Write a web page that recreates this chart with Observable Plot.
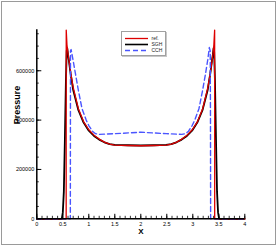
<!DOCTYPE html>
<html>
<head>
<meta charset="utf-8">
<script src="https://cdn.jsdelivr.net/npm/d3@7"></script>
<script src="https://cdn.jsdelivr.net/npm/@observablehq/plot@0.6"></script>
<style>
  html, body { margin: 0; padding: 0; background: white; }
  #wrap { position: relative; width: 277px; height: 246px; }
  #wrap svg.plot { outline: 1px solid #9a9a9a; outline-offset: -2px; }
  #legend { position: absolute; left: 120.5px; top: 30.5px; width: 45px; height: 25px;
            background: white; border: 1px solid #a0a0a0; box-shadow: 1px 1px 0 #c8c8c8; box-sizing: border-box; }
</style>
</head>
<body>
<div id="wrap"></div>
<script>
// ----- data -----
const seriesNames = ["ref.", "SGH", "CCH"];
const seriesColors = ["#dd0000", "#000000", "#4a55ff"];

const refX = [0, 0.565, 0.566, 0.58, 0.6, 0.65, 0.7, 0.8, 0.9, 1.0, 1.1, 1.2, 1.3, 1.4, 1.5, 1.75, 2.0, 2.25, 2.49, 2.59, 2.69, 2.79, 2.89, 2.99, 3.09, 3.19, 3.29, 3.34, 3.39, 3.405, 3.42, 3.421, 4.0];
const refP = [0, 0, 765000, 705000, 670000, 595000, 533000, 446000, 394000, 361000, 339000, 323000, 311000, 303000, 299000, 297000, 296000, 297000, 299000, 303000, 311000, 323000, 339000, 361000, 394000, 446000, 533000, 595000, 670000, 705000, 765000, 0, 0];

const sghX = [0, 0.48, 0.5, 0.52, 0.54, 0.56, 0.575, 0.585, 0.6, 0.615, 0.65, 0.7, 0.8, 0.9, 1.0, 1.1, 1.2, 1.3, 1.4, 1.5, 1.75, 2.0, 2.25, 2.486, 2.586, 2.686, 2.786, 2.886, 2.986, 3.086, 3.186, 3.286, 3.336, 3.371, 3.386, 3.40, 3.41, 3.426, 3.446, 3.466, 3.486, 3.506, 4.0];
const sghP = [0, 0, 25000, 110000, 320000, 560000, 680000, 692000, 665000, 645000, 588000, 522000, 440000, 390000, 357000, 336000, 321000, 310000, 303000, 300000, 298000, 297000, 298000, 300000, 303000, 310000, 321000, 336000, 357000, 390000, 440000, 522000, 588000, 645000, 665000, 692000, 680000, 560000, 320000, 110000, 25000, 0, 0];

const cchX = [0, 0.645, 0.648, 0.66, 0.7, 0.745, 0.8, 0.87, 0.95, 1.0, 1.07, 1.13, 1.2, 1.5, 2.0, 2.488, 2.788, 2.858, 2.918, 2.988, 3.038, 3.118, 3.188, 3.243, 3.288, 3.318, 3.335, 3.34, 3.343, 4.0];
const cchP = [0, 0, 680000, 686000, 640000, 586000, 520000, 446000, 400000, 378000, 355000, 345000, 342000, 345000, 351000, 345000, 342000, 345000, 355000, 378000, 400000, 446000, 520000, 586000, 645000, 694000, 680000, 400000, 0, 0];

const xMajor = [0, 0.5, 1, 1.5, 2, 2.5, 3, 3.5, 4];
const xMinor = d3.range(0, 41).map(i => i / 10);
const yMajor = [0, 200000, 400000, 600000];
const yMinor = [0, 50000, 100000, 150000, 200000, 250000, 300000, 350000, 400000, 450000, 500000, 550000, 600000, 650000, 700000, 750000];
const xLabel = "X";
const yLabel = "Pressure";

const toRows = (xs, ps) => xs.map((x, i) => ({x, p: ps[i]}));
const ref = toRows(refX, refP);
const sgh = toRows(sghX, sghP);
const cch = toRows(cchX, cchP);

const plot = Plot.plot({
  width: 277, height: 246,
  marginLeft: 36.3, marginRight: 32.7, marginTop: 29.3, marginBottom: 27.7,
  style: {fontFamily: "'Liberation Sans', Arial, sans-serif", fontSize: "5.5px", background: "white", color: "black"},
  x: {domain: [0, 4]},
  y: {domain: [0, 766000]},
  marks: [
    Plot.line(sgh, {x: "x", y: "p", stroke: seriesColors[1], strokeWidth: 1.8}),
    Plot.line(ref, {x: "x", y: "p", stroke: seriesColors[0], strokeWidth: 1.3}),
    Plot.line(cch, {x: "x", y: "p", stroke: seriesColors[2], strokeWidth: 1.4, strokeDasharray: "5,3"}),
    // minor ticks (inward)
    Plot.axisX({ticks: xMinor, tickSize: 2.5, dy: -2.5, text: null, label: null, strokeWidth: 0.8}),
    Plot.axisY({ticks: yMinor, tickSize: 2.5, dx: 2.5, text: null, label: null, strokeWidth: 0.8}),
    // major ticks (inward)
    Plot.axisX({ticks: xMajor, tickSize: 4.5, dy: -4.5, text: null, label: null, strokeWidth: 1}),
    Plot.axisY({ticks: yMajor, tickSize: 5, dx: 5, text: null, label: null, strokeWidth: 1}),
    // tick labels
    Plot.axisX({ticks: xMajor, tickSize: 0, tickPadding: 3.5, label: null, tickFormat: d => String(d)}),
    Plot.axisY({ticks: yMajor, tickSize: 0, tickPadding: 2.5, label: null, tickFormat: d => String(d)}),
    // axis lines
    Plot.ruleY([0], {strokeWidth: 1.5}),
    Plot.ruleX([0], {strokeWidth: 1.5}),
    // axis titles
    Plot.text([yLabel], {frameAnchor: "left", dx: -19.6, rotate: -90, text: d => d, fontWeight: "bold", fontSize: 9}),
    Plot.text([xLabel], {frameAnchor: "bottom", dy: 15.5, text: d => d, fontWeight: "bold", fontSize: 8})
  ]
});
plot.classList.add("plot");
const wrap = document.getElementById("wrap");
wrap.appendChild(plot);

// legend
const leg = document.createElement("div");
leg.id = "legend";
wrap.appendChild(leg);
const lsvg = d3.select(leg).append("svg").attr("width", 43).attr("height", 23)
  .style("position", "absolute").style("left", "0px").style("top", "0px");
const rowY = [6.5, 12.5, 18.5];
const dashes = [null, null, "5,3"];
const widths = [1.3, 1.6, 1.4];
seriesNames.forEach((name, i) => {
  lsvg.append("line").attr("x1", 3).attr("x2", 26).attr("y1", rowY[i]).attr("y2", rowY[i])
    .attr("stroke", seriesColors[i]).attr("stroke-width", widths[i])
    .attr("stroke-dasharray", dashes[i]);
  lsvg.append("text").attr("x", 29.5).attr("y", rowY[i]).attr("dy", "0.35em")
    .attr("font-family", "'Liberation Sans', Arial, sans-serif").attr("font-size", 5)
    .attr("fill", "#222").text(name);
});
</script>
</body>
</html>
